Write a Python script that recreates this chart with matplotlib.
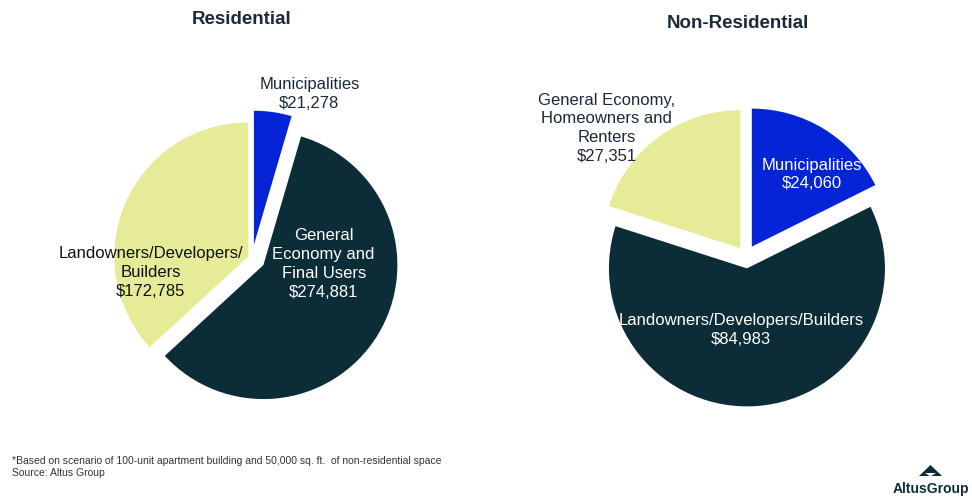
import numpy as np
import matplotlib
matplotlib.use('Agg')
from matplotlib import pyplot as plt
from matplotlib.patches import Polygon

plt.rcParams['font.family'] = ['Liberation Sans', 'DejaVu Sans']

# cost burden per party, $
res_labels = ['Municipalities\n$21,278',
              'General\nEconomy and\nFinal Users\n$274,881',
              'Landowners/Developers/\nBuilders\n$172,785']
res_values = [21278, 274881, 172785]

nonres_labels = ['Municipalities\n$24,060',
                 'Landowners/Developers/Builders\n$84,983',
                 'General Economy,\nHomeowners and\nRenters\n$27,351']
nonres_values = [24060, 84983, 27351]

BLUE = '#0424d6'
DARK = '#0c2d38'
YELLOW = '#e5eb97'
NAVY = '#1b2a39'

W, H = 972, 499
fig = plt.figure(figsize=(W / 100, H / 100), dpi=100)
LIM = 1.4


def pie_axes(cx, cy, r):
    # equal-aspect axes with the unit circle r px around (cx, cy)
    side = 2 * LIM * r
    ax = fig.add_axes([(cx - side / 2) / W, (H - cy - side / 2) / H, side / W, side / H])
    return ax


def draw_pie(ax, values, labels, explode, label_pos, tcolors):
    wedges, _ = ax.pie(values, colors=[BLUE, DARK, YELLOW], startangle=90,
                       counterclock=False, explode=explode,
                       wedgeprops=dict(linewidth=0))
    # pie() resets the limits, so fix them afterwards
    ax.set_xlim(-LIM, LIM)
    ax.set_ylim(-LIM, LIM)
    ax.set_aspect('equal')
    ax.axis('off')
    # label_pos: (radius, angle shift from the wedge middle in degrees)
    for w, lab, (d, da), c in zip(wedges, labels, label_pos, tcolors):
        mid = np.deg2rad((w.theta1 + w.theta2) / 2 + da)
        x0, y0 = w.center
        ax.text(x0 + d * np.cos(mid), y0 + d * np.sin(mid), lab, ha='center',
                va='center', fontsize=12, color=c, linespacing=1.32)
    return wedges


ax1 = pie_axes(252, 258, 134)
draw_pie(ax1, res_values, res_labels, [0.1, 0.1, 0.03],
         [(1.2, -12), (0.45, 33), (0.74, 33)],
         [NAVY, 'white', '#111111'])

ax2 = pie_axes(746, 256, 138)
draw_pie(ax2, nonres_values, nonres_labels, [0.08, 0.09, 0.07],
         [(0.68, -8), (0.45, -10), (1.3, 12)],
         ['white', 'white', NAVY])

fig.text(242 / W, 1 - 19 / H, 'Residential', ha='center', va='center',
         fontsize=13.5, fontweight='bold', color=NAVY)
fig.text(738 / W, 1 - 24 / H, 'Non-Residential', ha='center', va='center',
         fontsize=13.5, fontweight='bold', color=NAVY)

fig.text(12 / W, 1 - 461 / H,
         '*Based on scenario of 100-unit apartment building and 50,000 sq. ft.  of non-residential space',
         ha='left', va='center', fontsize=7.5, color='#333333')
fig.text(12 / W, 1 - 473 / H, 'Source: Altus Group', ha='left', va='center',
         fontsize=7.5, color='#333333')

# logo
fig.patches.append(Polygon([(919 / W, 1 - 476 / H), (942 / W, 1 - 476 / H), (930.5 / W, 1 - 465 / H)],
                           closed=True, transform=fig.transFigure, color=DARK, lw=0))
fig.patches.append(Polygon([(925 / W, 1 - 473 / H), (936 / W, 1 - 473 / H), (930.5 / W, 1 - 476.5 / H)],
                           closed=True, transform=fig.transFigure, color='white', lw=0))
fig.text(931 / W, 1 - 489 / H, 'AltusGroup', ha='center', va='center', fontsize=10,
         fontweight='bold', color=DARK)

fig.savefig('out.png', dpi=100, facecolor='white')
